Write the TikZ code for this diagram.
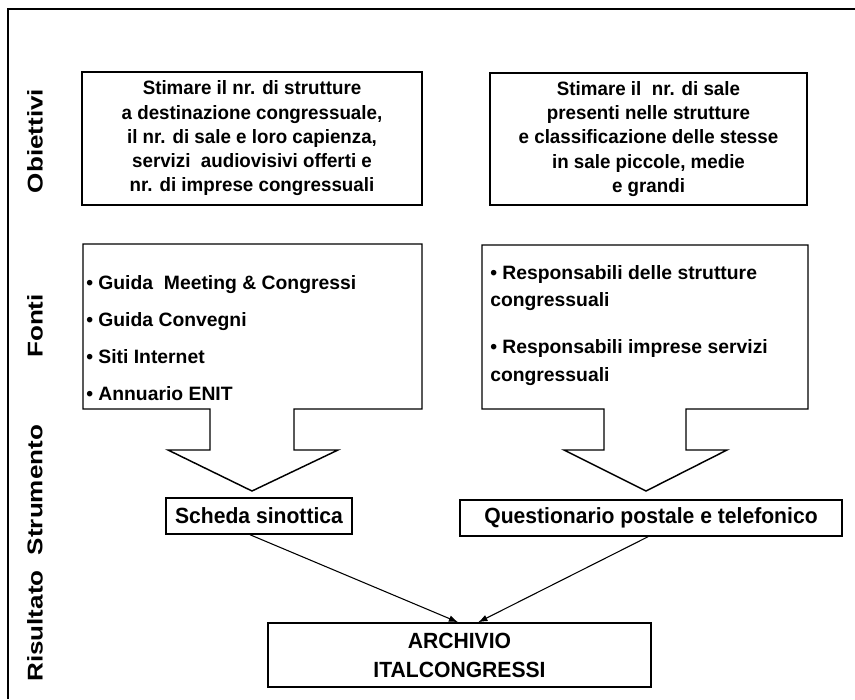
\documentclass[tikz,border=0pt]{standalone}
\usepackage{fontspec}
\setmainfont{Liberation Sans}
\newfontfamily\boxfont[FakeStretch=0.97]{Liberation Sans}
\newfontfamily\toolfont[FakeStretch=0.96]{Liberation Sans}
\newfontfamily\rowfont[FakeStretch=1.22]{Liberation Sans}
\usetikzlibrary{arrows.meta}

\tikzset{
  rowlabel/.style={rotate=90, font=\rowfont\bfseries\fontsize{16}{18}\selectfont},
  goalbox/.style={draw, line width=1.1pt, align=center, font=\boxfont\bfseries\fontsize{14.5}{18.2}\selectfont},
  toolbox/.style={draw, line width=1.1pt, align=center, font=\toolfont\bfseries\fontsize{16.5}{21.75}\selectfont},
  srctext/.style={anchor=north west, inner sep=0pt, align=left},
  srcshape/.style={draw, line width=1.1pt, fill=white, line join=miter},
  link/.style={-{Latex[length=7pt,width=5pt]}, line width=0.8pt}
}

\begin{document}
\begin{tikzpicture}[x=0.75pt,y=-0.75pt]
\useasboundingbox (0,0) rectangle (855,699);

% Frame
\draw[line width=1.5pt] (8,699) -- (8,9) -- (855,9);

% Row labels
\node[rowlabel] (lobj) at (35,141) {Obiettivi};
\node[rowlabel] (lsrc) at (35,326) {Fonti};
\node[rowlabel] (ltool) at (35,490) {Strumento};
\node[rowlabel] (lres) at (35,626) {Risultato};

% Objectives
\node[goalbox, minimum width=255pt, minimum height=99.75pt] (goalA) at (252,138.5)
  {Stimare il nr. di strutture\\ a destinazione congressuale,\\ il nr. di sale e loro capienza,\\ servizi\ \ audiovisivi offerti e\\ nr. di imprese congressuali};
\node[goalbox, minimum width=237.75pt, minimum height=99pt] (goalB) at (648.5,139)
  {Stimare il\ \ nr. di sale\\ presenti nelle strutture\\ e classificazione delle stesse\\ in sale piccole, medie\\ e grandi};

% Sources with block arrows
\draw[srcshape] (83,244) -- (422,244) -- (422,409) -- (294,409) -- (294,450) -- (338,450)
  -- (252,491) -- (168,450) -- (210,450) -- (210,409) -- (83,409) -- cycle;
\draw[srcshape] (482,245) -- (808,245) -- (808,409) -- (686,409) -- (686,450) -- (727,450)
  -- (646,491) -- (564,450) -- (604,450) -- (604,409) -- (482,409) -- cycle;
\node[srctext, font=\bfseries\fontsize{14.5}{27.75}\selectfont] (srcA) at (86,275)
  {• Guida\ \ Meeting \& Congressi\\ • Guida Convegni\\ • Siti Internet\\ • Annuario ENIT};
\node[srctext, font=\bfseries\fontsize{14.5}{20.6}\selectfont] (srcB) at (490,265)
  {• Responsabili delle strutture\\ congressuali\\[14.6pt] • Responsabili imprese servizi\\ congressuali};

% Tools
\node[toolbox, minimum width=139.5pt, minimum height=27pt] (scheda) at (259,516) {Scheda sinottica};
\node[toolbox, minimum width=286.5pt, minimum height=27pt] (quest) at (651,518) {Questionario postale e telefonico};

% Result
\node[toolbox, minimum width=287.25pt, minimum height=48pt] (archivio) at (459.5,655) {ARCHIVIO\\ ITALCONGRESSI};

% Arrows
\draw[link] ([xshift=-6.75pt]scheda.south) -- ([xshift=-1pt]archivio.north);
\draw[link] ([xshift=-2.25pt]quest.south) -- ([xshift=14pt]archivio.north);
\end{tikzpicture}
\end{document}
